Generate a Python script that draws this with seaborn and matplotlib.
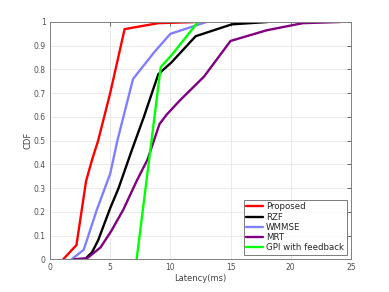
import pandas as pd
import matplotlib
matplotlib.use('Agg')
import matplotlib.pyplot as plt
import seaborn as sns

# CDF curves
proposed_x = [1.1, 2.2, 3.0, 3.5, 4.0, 5.0, 6.2, 9.0, 12.2]
proposed_y = [0, 0.06, 0.33, 0.42, 0.5, 0.7, 0.97, 0.995, 1.0]

rzf_x = [2.9, 3.5, 4.0, 5.0, 5.7, 6.8, 7.8, 9.0, 10.1, 12.1, 15.1, 18.1]
rzf_y = [0, 0.03, 0.08, 0.215, 0.3, 0.46, 0.6, 0.78, 0.83, 0.94, 0.99, 1.0]

wmmse_x = [1.8, 2.8, 3.9, 5.0, 5.6, 6.9, 8.7, 10.0, 13.0]
wmmse_y = [0, 0.04, 0.21, 0.36, 0.5, 0.76, 0.875, 0.95, 1.0]

mrt_x = [2.0, 3.1, 4.2, 5.1, 6.1, 7.2, 8.1, 9.1, 9.7, 10.8, 12.8, 15.0, 18.0, 21.0, 24.1]
mrt_y = [0, 0.005, 0.05, 0.12, 0.21, 0.33, 0.42, 0.57, 0.61, 0.67, 0.77, 0.92, 0.965, 0.995, 1.0]

gpi_x = [7.2, 9.2, 10.1, 12.3]
gpi_y = [0, 0.81, 0.86, 1.0]

labels = ['Proposed', 'RZF', 'WMMSE', 'MRT', 'GPI with feedback']
colors = ['#ff0000', '#000000', '#8080ff', '#800080', '#00ff00']

series = [(proposed_x, proposed_y), (rzf_x, rzf_y), (wmmse_x, wmmse_y),
          (mrt_x, mrt_y), (gpi_x, gpi_y)]

frames = []
for name, (xs, ys) in zip(labels, series):
    frames.append(pd.DataFrame({'latency': xs, 'cdf': ys, 'scheme': name}))
df = pd.concat(frames, ignore_index=True)

sns.set_style('white')
plt.rcParams['font.family'] = ['DejaVu Sans']

fig = plt.figure(figsize=(3.89, 2.92), dpi=100)
ax = fig.add_axes([0.1285, 0.112, 0.7735, 0.8127])

sns.lineplot(data=df, x='latency', y='cdf', hue='scheme', hue_order=labels,
             palette=dict(zip(labels, colors)), sort=False, estimator=None,
             linewidth=1.7, ax=ax)

ax.set_xlim(0, 25)
ax.set_ylim(0, 1)
ax.set_xticks([0, 5, 10, 15, 20, 25])
ax.set_yticks([i / 10 for i in range(11)])
ax.set_yticklabels(['0'] + [f'{i / 10:.1f}' for i in range(1, 10)] + ['1'])
ax.grid(True, color='#e6e6e6', linewidth=0.6)
ax.set_axisbelow(True)
for s in ax.spines.values():
    s.set_color('#808080')
    s.set_linewidth(0.7)
ax.tick_params(direction='in', length=3, width=0.6, colors='#505050',
               labelsize=5.5, top=True, right=True, pad=3)
ax.set_xlabel('Latency(ms)', fontsize=6, color='#404040', labelpad=1)
ax.set_ylabel('CDF', fontsize=6, color='#404040', labelpad=1)

leg = ax.legend(loc='lower right', fontsize=6.2, frameon=True, fancybox=False,
                edgecolor='#404040', handlelength=2.0, handletextpad=0.3,
                borderpad=0.3, labelspacing=0.15, borderaxespad=0.5)
leg.get_frame().set_linewidth(0.6)
for line in leg.get_lines():
    line.set_linewidth(1.7)

fig.savefig('out.png', dpi=100)
